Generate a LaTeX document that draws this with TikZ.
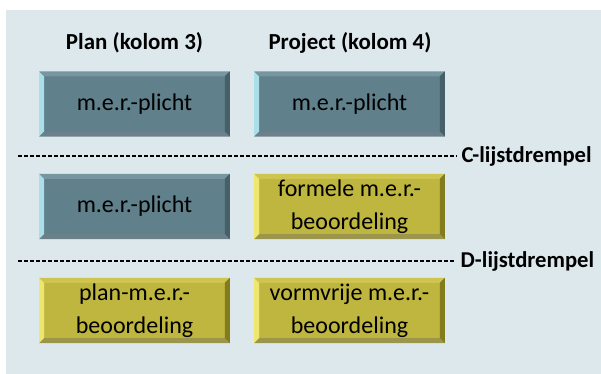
\documentclass[tikz,border=0pt]{standalone}
\usepackage{fontspec}
\setmainfont{Carlito}
\usetikzlibrary{positioning}

\definecolor{panelbg}{RGB}{221,232,237}
\definecolor{merblue}{RGB}{96,128,139}
\definecolor{merbluelt}{RGB}{170,222,232}
\definecolor{merbluetop}{RGB}{120,150,160}
\definecolor{merbluedk}{RGB}{70,96,106}
\definecolor{meryel}{RGB}{190,182,62}
\definecolor{meryellt}{RGB}{238,230,110}
\definecolor{meryeltop}{RGB}{205,197,80}
\definecolor{meryeldk}{RGB}{130,124,30}

\tikzset{
  merbox/.style={minimum width=142.5pt, minimum height=48.5pt, inner sep=2pt,
    align=center, font=\fontsize{18}{25}\selectfont, text=black},
  bluebox/.style={merbox, fill=merblue},
  yelbox/.style={merbox, fill=meryel},
  colhead/.style={font=\fontsize{17.2}{20}\selectfont\bfseries},
  drempel/.style={font=\fontsize{17}{20}\selectfont\bfseries, anchor=west},
  drempellijn/.style={line width=2.2pt, dash pattern=on 3pt off 1.5pt}
}

\newcommand{\bevel}[4]{% node, left, top, dark
  \fill[#2] (#1.north west) -- (#1.south west) -- ([shift={(5,-5)}]#1.south west) -- ([shift={(5,5)}]#1.north west) -- cycle;
  \fill[#3] (#1.north west) -- (#1.north east) -- ([shift={(-5,5)}]#1.north east) -- ([shift={(5,5)}]#1.north west) -- cycle;
  \fill[#4] (#1.north east) -- (#1.south east) -- ([shift={(-5,-5)}]#1.south east) -- ([shift={(-5,5)}]#1.north east) -- cycle;
  \fill[#4!80!white] (#1.south west) -- (#1.south east) -- ([shift={(-5,-5)}]#1.south east) -- ([shift={(5,-5)}]#1.south west) -- cycle;
}

\begin{document}
\begin{tikzpicture}[x=0.75pt, y=-0.75pt]
  \useasboundingbox (0,0) rectangle (601,374);
  \fill[white] (0,0) rectangle (601,374);
  \fill[panelbg] (6,10) rectangle (601,374);

  % kolomkoppen
  \node[colhead] (hplan) at (134.5,43) {Plan (kolom 3)};
  \node[colhead] (hproj) at (350,43) {Project (kolom 4)};

  % rij 1
  \node[bluebox] (p1) at (134.5,104) {m.e.r.-plicht};
  \node[bluebox] (q1) at (349.5,104) {m.e.r.-plicht};
  % rij 2
  \node[bluebox] (p2) at (134.5,206.5) {m.e.r.-plicht};
  \node[yelbox]  (q2) at (349.5,206.5) {formele m.e.r.-\\beoordeling};
  % rij 3
  \node[yelbox]  (p3) at (134.5,310.5) {plan-m.e.r.-\\beoordeling};
  \node[yelbox]  (q3) at (349.5,310.5) {vormvrije m.e.r.-\\beoordeling};

  \foreach \n in {p1,q1,p2}
    \bevel{\n}{merbluelt}{merbluetop}{merbluedk};
  \foreach \n in {q2,p3,q3}
    \bevel{\n}{meryellt}{meryeltop}{meryeldk};

  % drempels
  \node[drempel] (cdr) at (457,156) {C-lijstdrempel};
  \node[drempel] (ddr) at (456,261) {D-lijstdrempel};
  \coordinate (cstart) at (18,156);
  \coordinate (dstart) at (18,261);
  \draw[drempellijn] (cstart) -- (cdr.west);
  \draw[drempellijn] (dstart) -- (ddr.west);
\end{tikzpicture}
\end{document}
